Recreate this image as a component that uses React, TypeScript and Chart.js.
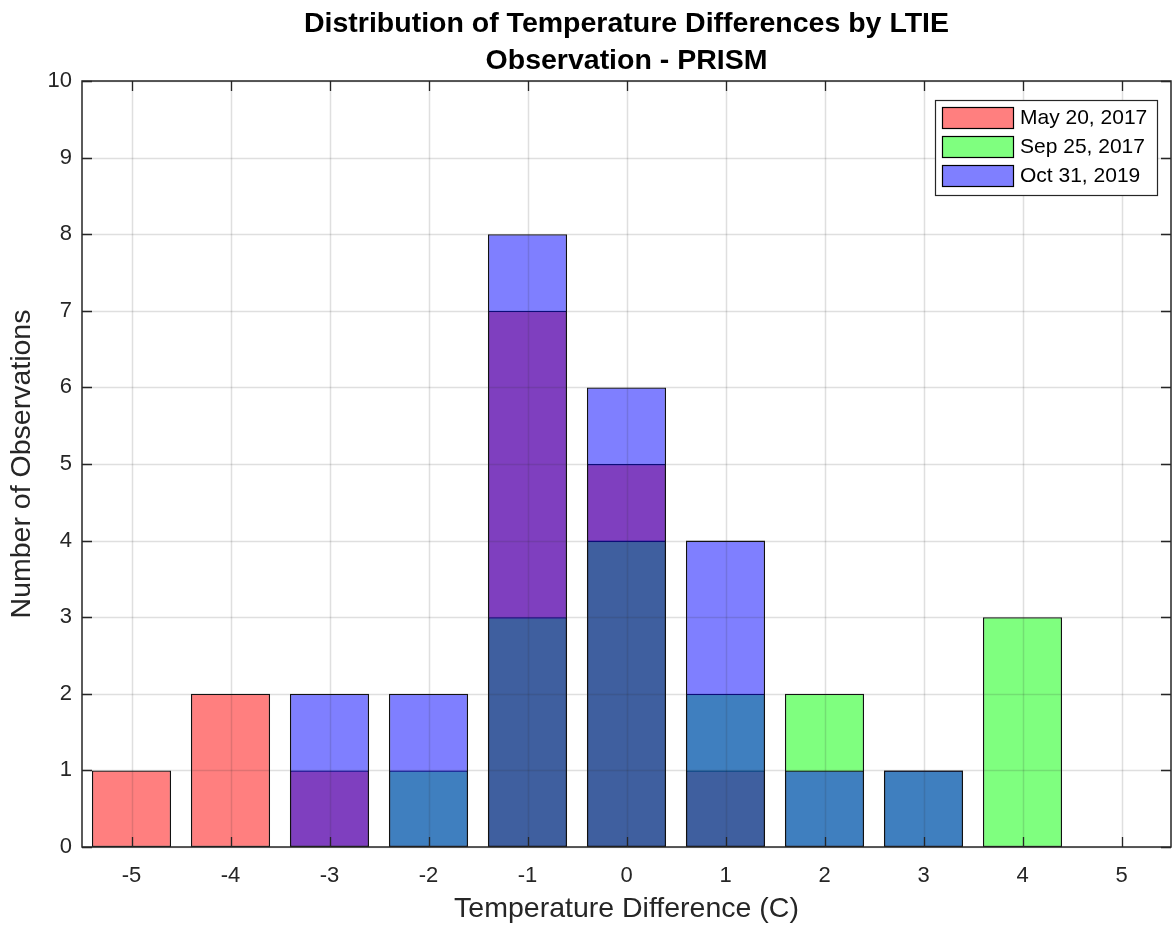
import React, { useEffect, useRef } from "react";
import { Chart, registerables } from "chart.js";

Chart.register(...registerables);

const categories = ["-5", "-4", "-3", "-2", "-1", "0", "1", "2", "3", "4", "5"];
const may2017 = [1, 2, 1, null, 7, 5, 1, null, null, null, null];
const sep2017 = [null, null, null, 1, 3, 4, 2, 2, 1, 3, null];
const oct2019 = [null, null, 2, 2, 8, 6, 4, 1, 1, null, null];
const seriesLabels = ["May 20, 2017", "Sep 25, 2017", "Oct 31, 2019"];
const seriesColors = ["rgba(255,0,0,0.5)", "rgba(0,255,0,0.5)", "rgba(0,0,255,0.5)"];
const yTicks = [0, 1, 2, 3, 4, 5, 6, 7, 8, 9, 10];
const titleLines = ["Distribution of Temperature Differences by LTIE", "Observation - PRISM"];

const FONT = "'Liberation Sans', Arial, Helvetica, sans-serif";
const AX = "#262626";

const overlayPlugin = {
  id: "matlabOverlay",
  afterDatasetsDraw(chart: any) {
    const { ctx, chartArea: a } = chart;
    const xs = chart.scales.x;
    const ys = chart.scales.y;
    ctx.save();
    // grid
    ctx.strokeStyle = "rgba(38,38,38,0.15)";
    ctx.lineWidth = 1.5;
    categories.forEach((_, i) => {
      const x = Math.round(xs.getPixelForValue(i)) + 0.5;
      ctx.beginPath();
      ctx.moveTo(x, a.top);
      ctx.lineTo(x, a.bottom);
      ctx.stroke();
    });
    yTicks.forEach((v) => {
      const y = Math.round(ys.getPixelForValue(v)) + 0.5;
      ctx.beginPath();
      ctx.moveTo(a.left, y);
      ctx.lineTo(a.right, y);
      ctx.stroke();
    });
    // ticks inward
    ctx.strokeStyle = AX;
    ctx.lineWidth = 1.3;
    const tl = 10;
    categories.forEach((_, i) => {
      const x = Math.round(xs.getPixelForValue(i)) + 0.5;
      ctx.beginPath();
      ctx.moveTo(x, a.bottom);
      ctx.lineTo(x, a.bottom - tl);
      ctx.moveTo(x, a.top);
      ctx.lineTo(x, a.top + tl);
      ctx.stroke();
    });
    yTicks.forEach((v) => {
      const y = Math.round(ys.getPixelForValue(v)) + 0.5;
      ctx.beginPath();
      ctx.moveTo(a.left, y);
      ctx.lineTo(a.left + tl, y);
      ctx.moveTo(a.right, y);
      ctx.lineTo(a.right - tl, y);
      ctx.stroke();
    });
    // box
    ctx.lineWidth = 1.5;
    ctx.strokeRect(a.left, a.top, a.right - a.left, a.bottom - a.top);

    // legend
    const lw = 222, lh = 95;
    const lx = a.right - 14 - lw;
    const ly = a.top + 19;
    ctx.fillStyle = "#ffffff";
    ctx.fillRect(lx, ly, lw, lh);
    ctx.lineWidth = 1.2;
    ctx.strokeStyle = AX;
    ctx.strokeRect(lx + 0.5, ly + 0.5, lw, lh);
    ctx.font = `21px ${FONT}`;
    ctx.textBaseline = "middle";
    ctx.textAlign = "left";
    seriesLabels.forEach((lab, i) => {
      const cy = ly + 17.5 + i * 29;
      ctx.fillStyle = "#ffffff";
      ctx.fillRect(lx + 7, cy - 10.5, 71, 21);
      ctx.fillStyle = seriesColors[i];
      ctx.fillRect(lx + 7, cy - 10.5, 71, 21);
      ctx.strokeStyle = "#000";
      ctx.strokeRect(lx + 7.5, cy - 10, 71, 21);
      ctx.fillStyle = "#000";
      ctx.fillText(lab, lx + 85, cy + 1);
    });

    // title
    ctx.fillStyle = "#000";
    ctx.font = `bold 28.5px ${FONT}`;
    ctx.textAlign = "center";
    ctx.textBaseline = "alphabetic";
    const cx = (a.left + a.right) / 2;
    ctx.fillText(titleLines[0], cx, 32);
    ctx.fillText(titleLines[1], cx, 69);
    ctx.restore();
  },
};

export default function App() {
  const ref = useRef<HTMLCanvasElement | null>(null);
  useEffect(() => {
    document.body.style.margin = "0";
    const canvas = ref.current;
    if (!canvas) return;
    const mk = (label: string, data: any[], color: string, order: number) => ({
      label,
      data,
      backgroundColor: color,
      borderColor: "#111",
      borderWidth: 1.3,
      borderSkipped: false,
      grouped: false,
      order,
      categoryPercentage: 1,
      barPercentage: 0.8,
    });
    const chart = new Chart(canvas, {
      type: "bar",
      data: {
        labels: categories,
        datasets: [
          mk(seriesLabels[0], may2017, seriesColors[0], 3),
          mk(seriesLabels[1], sep2017, seriesColors[1], 2),
          mk(seriesLabels[2], oct2019, seriesColors[2], 1),
        ] as any,
      },
      options: {
        responsive: false,
        animation: false,
        layout: { padding: { top: 81, right: 1, left: 0, bottom: 0 } },
        plugins: {
          legend: { display: false },
          title: { display: false },
          tooltip: { enabled: false },
        },
        scales: {
          x: {
            offset: true,
            grid: { display: false, drawTicks: false },
            border: { display: false },
            ticks: { color: AX, font: { family: FONT, size: 22 }, padding: 16, maxRotation: 0 },
            title: {
              display: true,
              text: "Temperature Difference (C)",
              color: AX,
              font: { family: FONT, size: 28.5 },
              padding: { top: 0, bottom: 2 },
            },
            afterFit: (s: any) => {
              s.height = 81;
            },
          },
          y: {
            min: 0,
            max: 10,
            grid: { display: false, drawTicks: false },
            border: { display: false },
            ticks: { stepSize: 1, color: AX, font: { family: FONT, size: 22 }, padding: 10 },
            title: {
              display: true,
              text: "Number of Observations",
              color: AX,
              font: { family: FONT, size: 28.5 },
              padding: { top: 5, bottom: 0 },
            },
            afterFit: (s: any) => {
              s.width = 82;
            },
          },
        },
      },
      plugins: [overlayPlugin],
    });
    return () => chart.destroy();
  }, []);
  return (
    <div style={{ width: 1172, height: 928, background: "#fff" }}>
      <canvas ref={ref} width={1172} height={928} style={{ display: "block" }} />
    </div>
  );
}
